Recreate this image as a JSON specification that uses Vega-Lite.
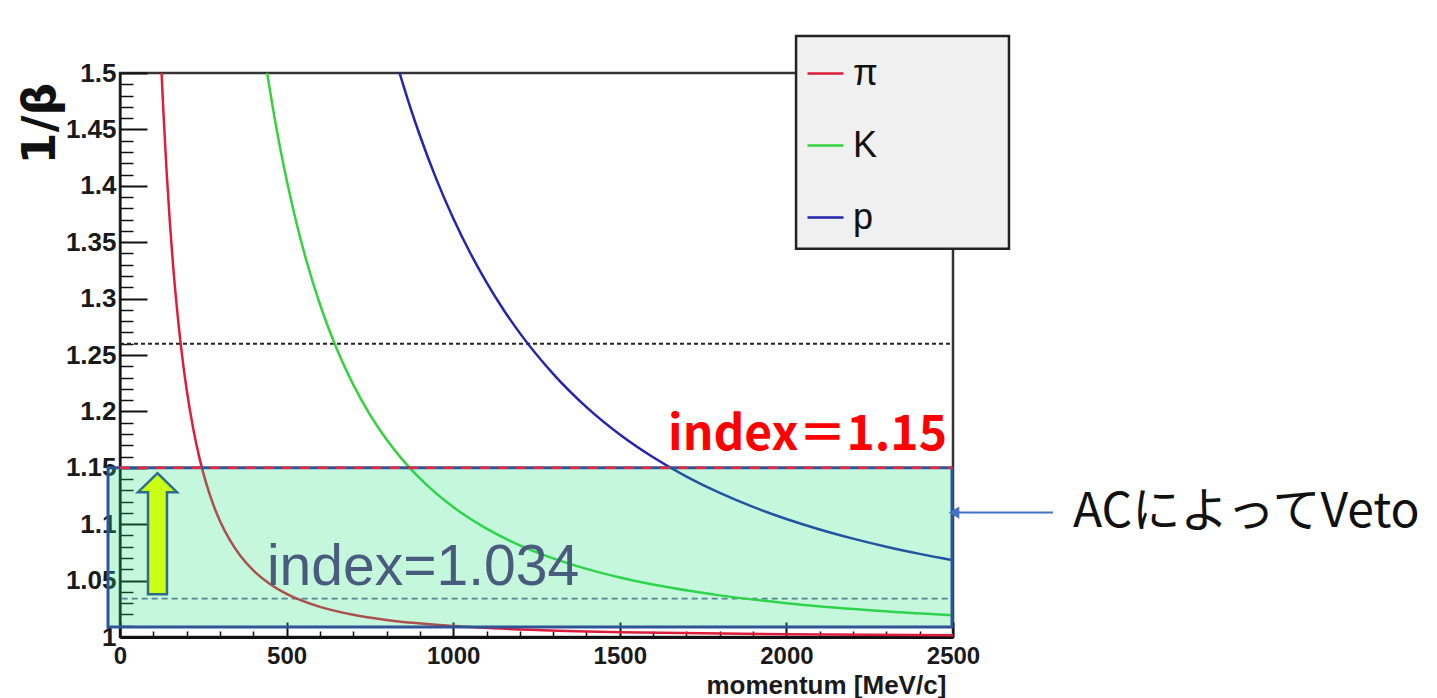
{
  "$schema": "https://vega.github.io/schema/vega-lite/v6.json",
  "width": 833,
  "height": 564,
  "autosize": {"type": "none"},
  "padding": {"left": 120, "top": 73, "right": 484, "bottom": 61},
  "background": "white",
  "config": {
    "view": {"stroke": "#333333", "strokeWidth": 2.5},
    "font": "Liberation Sans"
  },
  "encoding": {
    "x": {
      "field": "p",
      "type": "quantitative",
      "scale": {"domain": [0, 2500], "nice": false, "zero": false},
      "axis": {
        "values": [0, 100, 200, 300, 400, 500, 600, 700, 800, 900, 1000, 1100, 1200, 1300, 1400, 1500, 1600, 1700, 1800, 1900, 2000, 2100, 2200, 2300, 2400, 2500],
        "format": "d",
        "labelExpr": "datum.value % 500 == 0 ? datum.label : ''",
        "tickSize": {"condition": {"test": "datum.value % 500 == 0", "value": -15}, "value": -6},
        "tickWidth": {"condition": {"test": "datum.value % 500 == 0", "value": 2}, "value": 1.5},
        "tickColor": "#111111",
        "domainColor": "#111111",
        "domainWidth": 3,
        "grid": false,
        "labelFont": "Liberation Sans",
        "labelFontWeight": "bold",
        "labelFontSize": 24,
        "labelColor": "#1a1a1a",
        "labelPadding": 22,
        "labelOverlap": false,
        "labelFlush": false,
        "title": "momentum [MeV/c]",
        "titleFont": "Liberation Sans",
        "titleFontWeight": "bold",
        "titleFontSize": 26,
        "titleColor": "#1a1a1a",
        "titleX": 586,
        "titleY": 48,
        "titleAlign": "left",
        "titleBaseline": "middle"
      }
    },
    "y": {
      "field": "v",
      "type": "quantitative",
      "scale": {"domain": [1, 1.5], "nice": false, "zero": false},
      "axis": {
        "values": [1, 1.01, 1.02, 1.03, 1.04, 1.05, 1.06, 1.07, 1.08, 1.09, 1.1, 1.11, 1.12, 1.13, 1.14, 1.15, 1.16, 1.17, 1.18, 1.19, 1.2, 1.21, 1.22, 1.23, 1.24, 1.25, 1.26, 1.27, 1.28, 1.29, 1.3, 1.31, 1.32, 1.33, 1.34, 1.35, 1.36, 1.37, 1.38, 1.39, 1.4, 1.41, 1.42, 1.43, 1.44, 1.45, 1.46, 1.47, 1.48, 1.49, 1.5],
        "format": "~g",
        "labelExpr": "round(datum.value * 100) % 5 == 0 ? datum.label : ''",
        "tickSize": {"condition": {"test": "round(datum.value * 100) % 5 == 0", "value": -27}, "value": -13},
        "tickWidth": {"condition": {"test": "round(datum.value * 100) % 5 == 0", "value": 2}, "value": 1.5},
        "tickColor": "#111111",
        "domainColor": "#111111",
        "domainWidth": 2,
        "grid": false,
        "labelFont": "Liberation Sans",
        "labelFontWeight": "bold",
        "labelFontSize": 26,
        "labelColor": "#1a1a1a",
        "labelPadding": 31,
        "labelOverlap": false,
        "labelFlush": false,
        "title": "1/β",
        "titleFont": "DejaVu Sans",
        "titleFontWeight": "bold",
        "titleFontSize": 46,
        "titleColor": "#111111",
        "titleX": -80,
        "titleY": 50,
        "titleAngle": -90,
        "titleAlign": "center",
        "titleBaseline": "middle"
      }
    }
  },
  "layer": [
    {
      "data": {"values": [{"p": 0, "p2": 2500, "v": 1.26}]},
      "mark": {"type": "rule", "color": "#222222", "strokeWidth": 2, "strokeDash": [4, 3]},
      "encoding": {"x2": {"field": "p2"}}
    },
    {
      "data": {"values": [{"p": 5, "p2": 2500, "v": 1.034}]},
      "mark": {"type": "rule", "color": "#66669a", "strokeWidth": 1.6, "strokeDash": [6, 4]},
      "encoding": {"x2": {"field": "p2"}}
    },
    {
      "data": {"values": [{"p": 2029, "p2": 2668, "v": 1.3442, "v2": 1.5328}]},
      "mark": {"type": "rect", "fill": "#f0f0f0", "stroke": "#222222", "strokeWidth": 2.5, "clip": false},
      "encoding": {"x2": {"field": "p2"}, "y2": {"field": "v2"}}
    },
    {
      "data": {"values": [
        {"particle": "π", "p": 124.8, "v": 1.5},
        {"particle": "π", "p": 130, "v": 1.4672},
        {"particle": "π", "p": 140, "v": 1.412},
        {"particle": "π", "p": 150, "v": 1.3659},
        {"particle": "π", "p": 160, "v": 1.327},
        {"particle": "π", "p": 175, "v": 1.2791},
        {"particle": "π", "p": 190, "v": 1.2408},
        {"particle": "π", "p": 200, "v": 1.2194},
        {"particle": "π", "p": 220, "v": 1.1843},
        {"particle": "π", "p": 240, "v": 1.1568},
        {"particle": "π", "p": 260, "v": 1.135},
        {"particle": "π", "p": 280, "v": 1.1173},
        {"particle": "π", "p": 300, "v": 1.1029},
        {"particle": "π", "p": 330, "v": 1.0858},
        {"particle": "π", "p": 360, "v": 1.0725},
        {"particle": "π", "p": 400, "v": 1.0591},
        {"particle": "π", "p": 450, "v": 1.047},
        {"particle": "π", "p": 500, "v": 1.0382},
        {"particle": "π", "p": 600, "v": 1.0267},
        {"particle": "π", "p": 700, "v": 1.0197},
        {"particle": "π", "p": 800, "v": 1.0151},
        {"particle": "π", "p": 1000, "v": 1.0097},
        {"particle": "π", "p": 1250, "v": 1.0062},
        {"particle": "π", "p": 1500, "v": 1.0043},
        {"particle": "π", "p": 2000, "v": 1.0024},
        {"particle": "π", "p": 2500, "v": 1.0016},
        {"particle": "K", "p": 441.6, "v": 1.5},
        {"particle": "K", "p": 460, "v": 1.4669},
        {"particle": "K", "p": 480, "v": 1.4345},
        {"particle": "K", "p": 500, "v": 1.4053},
        {"particle": "K", "p": 530, "v": 1.3666},
        {"particle": "K", "p": 560, "v": 1.3331},
        {"particle": "K", "p": 600, "v": 1.295},
        {"particle": "K", "p": 650, "v": 1.2557},
        {"particle": "K", "p": 700, "v": 1.2237},
        {"particle": "K", "p": 750, "v": 1.1972},
        {"particle": "K", "p": 800, "v": 1.1751},
        {"particle": "K", "p": 850, "v": 1.1564},
        {"particle": "K", "p": 900, "v": 1.1406},
        {"particle": "K", "p": 1000, "v": 1.1152},
        {"particle": "K", "p": 1100, "v": 1.0961},
        {"particle": "K", "p": 1200, "v": 1.0813},
        {"particle": "K", "p": 1300, "v": 1.0697},
        {"particle": "K", "p": 1400, "v": 1.0604},
        {"particle": "K", "p": 1500, "v": 1.0528},
        {"particle": "K", "p": 1650, "v": 1.0438},
        {"particle": "K", "p": 1800, "v": 1.0369},
        {"particle": "K", "p": 2000, "v": 1.03},
        {"particle": "K", "p": 2250, "v": 1.0238},
        {"particle": "K", "p": 2500, "v": 1.0193},
        {"particle": "p", "p": 839.2, "v": 1.5},
        {"particle": "p", "p": 870, "v": 1.4707},
        {"particle": "p", "p": 900, "v": 1.4446},
        {"particle": "p", "p": 950, "v": 1.4055},
        {"particle": "p", "p": 1000, "v": 1.3713},
        {"particle": "p", "p": 1050, "v": 1.3411},
        {"particle": "p", "p": 1100, "v": 1.3144},
        {"particle": "p", "p": 1150, "v": 1.2906},
        {"particle": "p", "p": 1200, "v": 1.2694},
        {"particle": "p", "p": 1300, "v": 1.2333},
        {"particle": "p", "p": 1400, "v": 1.2038},
        {"particle": "p", "p": 1500, "v": 1.1795},
        {"particle": "p", "p": 1600, "v": 1.1593},
        {"particle": "p", "p": 1700, "v": 1.1422},
        {"particle": "p", "p": 1800, "v": 1.1277},
        {"particle": "p", "p": 1900, "v": 1.1153},
        {"particle": "p", "p": 2000, "v": 1.1046},
        {"particle": "p", "p": 2100, "v": 1.0953},
        {"particle": "p", "p": 2200, "v": 1.0872},
        {"particle": "p", "p": 2300, "v": 1.08},
        {"particle": "p", "p": 2400, "v": 1.0737},
        {"particle": "p", "p": 2500, "v": 1.0681}
      ]},
      "mark": {"type": "line", "strokeWidth": 2.5, "interpolate": "monotone"},
      "encoding": {
        "color": {
          "field": "particle",
          "type": "nominal",
          "scale": {"domain": ["π", "K", "p"], "range": ["#dc1e3c", "#34d23c", "#2424b0"]},
          "legend": {
            "title": null,
            "orient": "none",
            "legendX": 686,
            "legendY": -19,
            "direction": "vertical",
            "padding": 0,
            "symbolType": "stroke",
            "symbolSize": 1296,
            "symbolStrokeWidth": 2.5,
            "labelFont": "Liberation Sans",
            "labelFontSize": 36,
            "labelColor": "#111111",
            "labelOffset": 8,
            "labelLimit": 400,
            "rowPadding": 34
          }
        }
      }
    },
    {
      "data": {"values": [{"p": -36, "p2": 2497, "v": 1.0088, "v2": 1.15}]},
      "mark": {"type": "rect", "fill": "#1ee27a", "fillOpacity": 0.26, "stroke": "#2f5597", "strokeWidth": 3},
      "encoding": {"x2": {"field": "p2"}, "y2": {"field": "v2"}}
    },
    {
      "data": {"values": [{"p": 0, "p2": 2497, "v": 1.15}]},
      "mark": {"type": "rule", "color": "#e8283c", "strokeWidth": 2.5, "strokeDash": [10, 8]},
      "encoding": {"x2": {"field": "p2"}}
    },
    {
      "data": {"values": [{"p": 112.5, "v": 1.0916}]},
      "mark": {
        "type": "point",
        "shape": "M0,-1 L0.322,-0.686 L0.157,-0.686 L0.157,1 L-0.157,1 L-0.157,-0.686 L-0.322,-0.686 Z",
        "size": 14641,
        "filled": true,
        "fill": "#c8ff14",
        "fillOpacity": 1,
        "stroke": "#2e6c8c",
        "strokeWidth": 2.5,
        "opacity": 1
      }
    },
    {
      "data": {"values": [{"p": 2482, "v": 1.1655, "label": "index＝1.15"}]},
      "mark": {"type": "text", "align": "right", "baseline": "alphabetic", "font": "Noto Sans CJK JP", "fontWeight": "bold", "fontSize": 48, "color": "#ff0000"},
      "encoding": {"text": {"field": "label"}}
    },
    {
      "data": {"values": [{"p": 441, "v": 1.0457, "label": "index=1.034"}]},
      "mark": {"type": "text", "align": "left", "baseline": "alphabetic", "font": "Liberation Sans", "fontSize": 57, "color": "#4a5c7e"},
      "encoding": {"text": {"field": "label"}}
    },
    {
      "data": {"values": [{"p": 2506, "p2": 2800, "v": 1.1103}]},
      "mark": {"type": "rule", "color": "#4472c4", "strokeWidth": 2},
      "encoding": {"x2": {"field": "p2"}}
    },
    {
      "data": {"values": [{"p": 2503, "v": 1.1103}]},
      "mark": {"type": "point", "shape": "triangle-left", "size": 150, "filled": true, "color": "#4472c4", "opacity": 1}
    },
    {
      "data": {"values": [{"p": 2860, "v": 1.1096, "label": "ACによってVeto"}]},
      "mark": {"type": "text", "align": "left", "baseline": "middle", "font": "Noto Sans CJK JP", "fontSize": 48, "color": "#111111"},
      "encoding": {"text": {"field": "label"}}
    }
  ]
}
